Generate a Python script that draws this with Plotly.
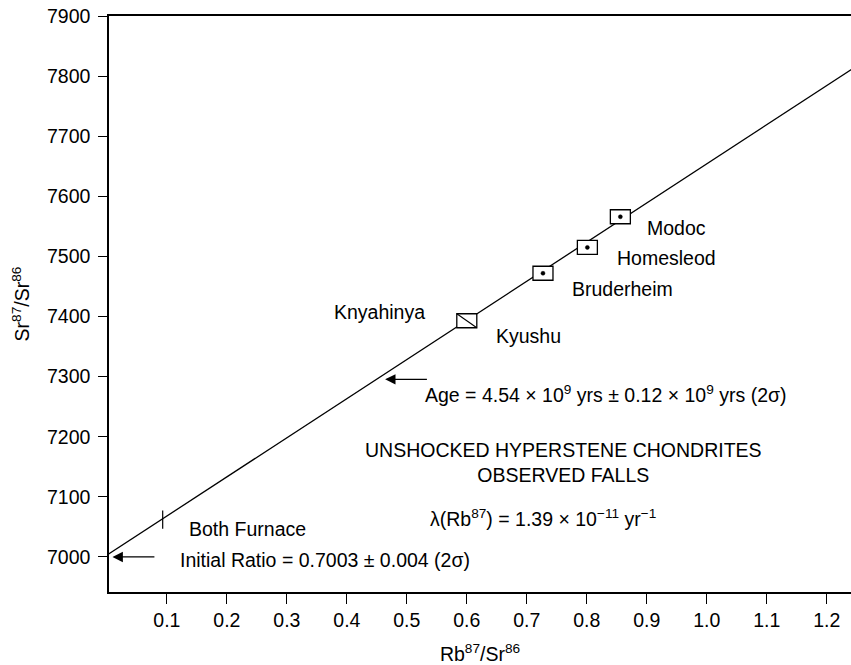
import plotly.graph_objects as go

# ---------------- data ----------------
meteorites = ["Modoc", "Homesleod", "Bruderheim", "Kyushu"]
rb87_sr86 = [0.856, 0.801, 0.727, 0.600]
sr87_sr86 = [7566, 7515, 7472, 7393]
dotted = [True, True, True, False]          # Kyushu box is crossed instead

both_furnace_x = [0.093]
both_furnace_y = [7062]

isochron_intercept = 7003      # initial ratio 0.7003 (x 10^4)
isochron_slope = 651           # per unit Rb87/Sr86
isochron_x = [0.0, 1.3]

x_ticks = [0.1, 0.2, 0.3, 0.4, 0.5, 0.6, 0.7, 0.8, 0.9, 1.0, 1.1, 1.2]
x_tick_text = ["0.1", "0.2", "0.3", "0.4", "0.5", "0.6", "0.7", "0.8", "0.9", "1.0", "1.1", "1.2"]
y_ticks = [7000, 7100, 7200, 7300, 7400, 7500, 7600, 7700, 7800, 7900]

age_arrow_y = 7295.5
initial_arrow_y = 7000

FONT = "Liberation Sans, Arial, Helvetica, sans-serif"
FS = 19.5

fig = go.Figure()

# isochron line
fig.add_trace(go.Scatter(
    x=isochron_x,
    y=[isochron_intercept + isochron_slope * v for v in isochron_x],
    mode="lines", line=dict(color="black", width=1.3), hoverinfo="skip",
    showlegend=False))

# Both Furnace tick mark
fig.add_trace(go.Scatter(
    x=both_furnace_x, y=both_furnace_y, mode="markers",
    marker=dict(symbol="line-ns", size=13, line=dict(color="black", width=1.2)),
    showlegend=False, hoverinfo="skip"))

shapes = []
for xv, yv, d in zip(rb87_sr86, sr87_sr86, dotted):
    shapes.append(dict(type="rect", xref="x", yref="y", xsizemode="pixel", ysizemode="pixel",
                       xanchor=xv, yanchor=yv, x0=-10, x1=10, y0=-7, y1=7,
                       fillcolor="white", line=dict(color="black", width=1.3), layer="above"))
    if d:
        shapes.append(dict(type="circle", xref="x", yref="y", xsizemode="pixel", ysizemode="pixel",
                           xanchor=xv, yanchor=yv, x0=-2, x1=2, y0=-2, y1=2,
                           fillcolor="black", line=dict(color="black", width=0.5), layer="above"))
    else:
        shapes.append(dict(type="line", xref="x", yref="y", xsizemode="pixel", ysizemode="pixel",
                           xanchor=xv, yanchor=yv, x0=-10, x1=10, y0=7, y1=-7,
                           line=dict(color="black", width=1.1), layer="above"))

annotations = []
font = dict(family=FONT, size=FS, color="black")

# point labels (offset from their marks)
label_offsets = {"Modoc": (25, -11), "Homesleod": (28, -11), "Bruderheim": (27, -16), "Kyushu": (27, -15)}
for name, xv, yv in zip(meteorites, rb87_sr86, sr87_sr86):
    dx, dy = label_offsets[name]
    annotations.append(dict(x=xv, y=yv, xref="x", yref="y", text=name, showarrow=False,
                            xanchor="left", yanchor="middle", xshift=dx, yshift=dy, font=font))
# Knyahinya shares the Kyushu box
annotations.append(dict(x=rb87_sr86[3], y=sr87_sr86[3], xref="x", yref="y", text="Knyahinya",
                        showarrow=False, xanchor="right", yanchor="middle", xshift=-40, yshift=9,
                        font=font))
annotations.append(dict(x=both_furnace_x[0], y=both_furnace_y[0], xref="x", yref="y",
                        text="Both Furnace", showarrow=False, xanchor="left", yanchor="middle",
                        xshift=24, yshift=-9, font=font))

# arrows
annotations.append(dict(x=0.4638, y=age_arrow_y, ax=0.536, ay=age_arrow_y, xref="x", yref="y",
                        axref="x", ayref="y", text="", showarrow=True, arrowhead=2, arrowsize=1.6,
                        arrowwidth=1.3, arrowcolor="black"))
annotations.append(dict(x=0.0093, y=initial_arrow_y, ax=0.0817, ay=initial_arrow_y, xref="x", yref="y",
                        axref="x", ayref="y", text="", showarrow=True, arrowhead=2, arrowsize=1.6,
                        arrowwidth=1.3, arrowcolor="black"))

# free texts
annotations.append(dict(x=0.5277, y=7271, xref="x", yref="y", showarrow=False, xanchor="left",
                        yanchor="middle", font=font,
                        text="Age = 4.54 \u00d7 10<sup>9</sup> yrs \u00b1 0.12 \u00d7 10<sup>9</sup> yrs (2\u03c3)"))
annotations.append(dict(x=0.119, y=6994.5, xref="x", yref="y", showarrow=False, xanchor="left",
                        yanchor="middle", font=font,
                        text="Initial Ratio = 0.7003 \u00b1 0.004 (2\u03c3)"))
annotations.append(dict(x=0.762, y=7157, xref="x", yref="y", showarrow=False, xanchor="center",
                        yanchor="middle", font=font, align="center",
                        text="UNSHOCKED HYPERSTENE CHONDRITES<br>OBSERVED FALLS"))
annotations.append(dict(x=0.535, y=7064, xref="x", yref="y", showarrow=False, xanchor="left",
                        yanchor="middle", font=font,
                        text="\u03bb(Rb<sup>87</sup>) = 1.39 \u00d7 10<sup>\u221211</sup> yr<sup>\u22121</sup>"))

fig.update_layout(
    width=851, height=665,
    margin=dict(l=109, r=0, t=16, b=73, autoexpand=False),
    paper_bgcolor="white", plot_bgcolor="white",
    font=font, showlegend=False,
    shapes=shapes, annotations=annotations,
    xaxis=dict(range=[0.0035, 1.2405], tickvals=x_ticks, ticktext=x_tick_text,
               automargin=False, ticklabeloverflow="allow",
               showgrid=False, zeroline=False, showline=True, linecolor="black", linewidth=1.5,
               mirror=True, ticks="outside", ticklen=10, tickwidth=1.3, tickcolor="black",
               tickfont=font,
               title=dict(text="Rb<sup>87</sup>/Sr<sup>86</sup>", font=font, standoff=24)),
    yaxis=dict(range=[6941.7, 7900], tickvals=y_ticks, automargin=False,
               ticklabeloverflow="allow",
               showgrid=False, zeroline=False, showline=True, linecolor="black", linewidth=1.5,
               ticks="outside", ticklen=9, tickwidth=1.3, tickcolor="black",
               tickfont=font, ticklabelstandoff=4,
               title=dict(text="Sr<sup>87</sup>/Sr<sup>86</sup>", font=font, standoff=12)),
)

# remove the browser's default page margin so the figure fills the window exactly
fig.write_html("out.html", config={"displayModeBar": False},
               post_script="document.body.style.margin='0';document.body.style.overflow='hidden';")
